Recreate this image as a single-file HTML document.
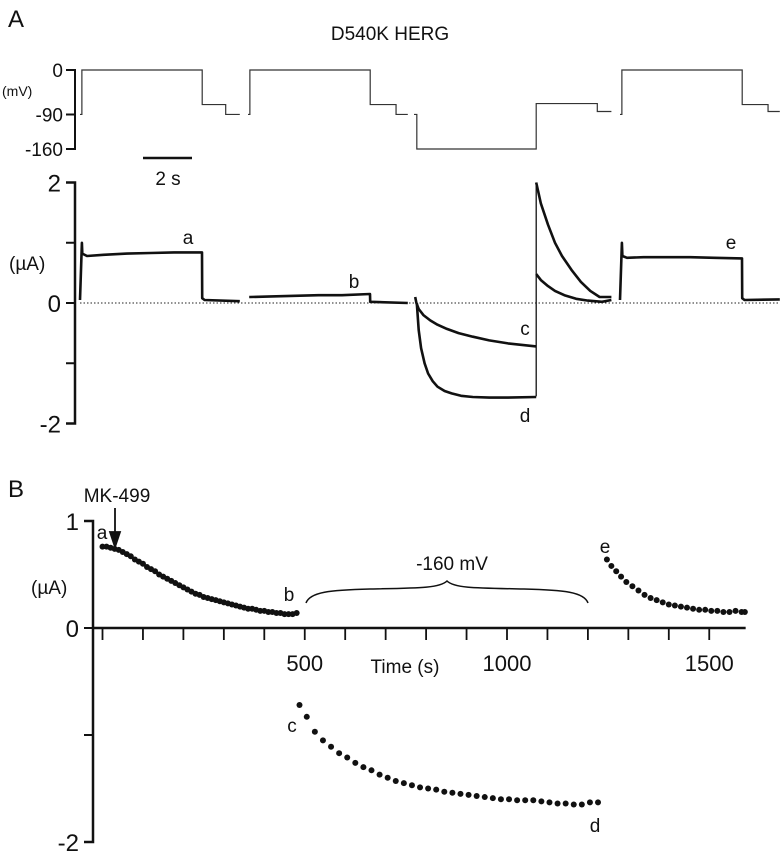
<!DOCTYPE html>
<html><head><meta charset="utf-8"><style>
html,body{margin:0;padding:0;background:#fff}
svg{display:block}
text{font-family:"Liberation Sans",sans-serif;fill:#111}
</style></head><body>
<svg id="fig" width="780" height="853" viewBox="0 0 780 853" xmlns="http://www.w3.org/2000/svg">
<text x="8" y="27" font-size="24">A</text>
<text x="390" y="40" font-size="19" text-anchor="middle">D540K HERG</text>
<g id="protocol"></g>
<g id="currents"></g>
<text x="8" y="497" font-size="24">B</text>
<g id="timecourse"></g>
</svg>
<script>
// ---------- Panel A data ----------
const sweepOrigins = [80, 248, 414, 620];
const vSteps1 = [[0,-90],[0.08,0],[5.2,-70],[6.2,-90],[6.8,-90]];
const vSteps2 = [[0,-90],[0.08,0],[5.2,-70],[6.3,-90],[6.8,-90]];
const vSteps3 = [[0,-90],[0.12,-160],[5.2,-68],[7.8,-84],[8.4,-84]];
const vSteps4 = [[0,-90],[0.08,0],[5.2,-70],[6.3,-84],[6.8,-84]];
const traceA_t = [0,0.08,0.1,0.3,1,2,3,4,5.19,5.2,5.3,6.8];
const traceA_v = [0.05,1.0,0.82,0.78,0.8,0.82,0.83,0.84,0.84,0.08,0.05,0.03];
const traceB_t = [0.05,0.1,1,2,3,4,5.19,5.2,6.8];
const traceB_v = [0.1,0.1,0.11,0.12,0.13,0.13,0.15,0.02,0.0];
const traceC_t = [0.05,0.1,0.2,0.4,0.7,1.0,1.4,1.9,2.5,3.2,4.0,5.2];
const traceC_v = [0.1,0,-0.1,-0.2,-0.29,-0.36,-0.43,-0.5,-0.56,-0.62,-0.67,-0.72];
const traceD_t = [0.12,0.2,0.3,0.45,0.6,0.8,1.0,1.3,1.6,2.0,2.5,3.2,4.0,5.2];
const traceD_v = [0,-0.45,-0.75,-1.0,-1.17,-1.3,-1.39,-1.46,-1.5,-1.54,-1.56,-1.57,-1.57,-1.56];
const tail1_t = [5.2,5.4,5.7,6.0,6.3,6.7,7.1,7.5,7.9,8.4];
const tail1_v = [2.0,1.65,1.3,1.0,0.78,0.55,0.35,0.2,0.1,0.1];
const tail2_t = [5.2,5.4,5.7,6.0,6.4,6.9,7.4,8.0,8.4];
const tail2_v = [0.48,0.38,0.28,0.2,0.13,0.07,0.04,0.02,0.05];
const traceE_t = [0,0.08,0.1,0.3,1,2,3,4,5.19,5.2,5.3,6.8];
const traceE_v = [0.05,1.0,0.78,0.75,0.76,0.76,0.76,0.75,0.74,0.08,0.05,0.06];
const vTicks = [0,-90,-160];
const iTicks = [2,1,0,-1,-2];
const iTickLabels = ["2","","0","","-2"];

// ---------- Panel B data ----------
const seg1_t = [0,10,20,30,40,50,60,70,80,90,100,110,120,130,140,150,160,170,180,190,200,210,220,230,240,250,260,270,280,290,300,310,320,330,340,350,360,370,380,390,400,410,420,430,440,450,460,470,480];
const seg1_v = [0.76,0.76,0.75,0.74,0.73,0.71,0.69,0.67,0.64,0.62,0.6,0.57,0.55,0.53,0.5,0.48,0.46,0.44,0.42,0.4,0.38,0.36,0.34,0.32,0.31,0.29,0.28,0.27,0.26,0.25,0.24,0.23,0.22,0.21,0.2,0.19,0.18,0.18,0.17,0.16,0.16,0.15,0.15,0.14,0.14,0.13,0.13,0.13,0.14];
const seg2_t = [487,505,525,545,565,585,605,625,645,665,685,705,725,745,765,785,805,825,845,865,885,905,925,945,965,985,1005,1025,1045,1065,1085,1105,1125,1145,1165,1185,1205,1225];
const seg2_v = [-0.72,-0.83,-0.97,-1.05,-1.11,-1.17,-1.21,-1.26,-1.3,-1.33,-1.37,-1.4,-1.43,-1.45,-1.47,-1.49,-1.5,-1.51,-1.53,-1.54,-1.55,-1.56,-1.57,-1.58,-1.59,-1.6,-1.6,-1.61,-1.61,-1.61,-1.62,-1.63,-1.64,-1.64,-1.65,-1.65,-1.63,-1.63];
const seg3_t = [1247,1258,1270,1282,1295,1310,1325,1340,1355,1370,1385,1400,1415,1430,1445,1460,1475,1490,1505,1520,1535,1550,1565,1580,1588];
const seg3_v = [0.64,0.58,0.53,0.48,0.43,0.39,0.35,0.31,0.28,0.26,0.24,0.22,0.21,0.2,0.19,0.18,0.17,0.17,0.16,0.16,0.15,0.15,0.16,0.15,0.15];
const bYTicks = [1,0,-1,-2];
const bYLabels = ["1","0","","-2"];
const bXLabels = [500,1000,1500];

const NS="http://www.w3.org/2000/svg";
function mk(tag, attrs, parent){const e=document.createElementNS(NS,tag);for(const k in attrs)e.setAttribute(k,attrs[k]);parent.appendChild(e);return e;}

const pxPerSec = 23.5;
function xA(sweep,t){return sweepOrigins[sweep]+t*pxPerSec;}
function yV(v){return 70+(0-v)*(149-70)/160;}
function yI(v){return 303-v*60.25;}

const prot=document.getElementById('protocol');
let ax=mk('path',{d:`M66 ${yV(0)}H75V${yV(-160)}H66 M66 ${yV(-90)}H75`,stroke:'#111','stroke-width':2,fill:'none'},prot);


vTicks.forEach(v=>{const t=mk('text',{x:63,y:yV(v)+7,'font-size':19,'text-anchor':'end'},prot);t.textContent=String(v);

});
let mvl=mk('text',{x:2,y:96,'font-size':14},prot);mvl.textContent='(mV)';


[vSteps1,vSteps2,vSteps3,vSteps4].forEach((st,i)=>{
  let d=`M${xA(i,st[0][0])} ${yV(st[0][1])}`;
  for(let k=1;k<st.length;k++){d+=`H${xA(i,st[k][0])}V${yV(st[k][1])}`;}
  const p=mk('path',{d,stroke:'#333','stroke-width':1.2,fill:'none'},prot);
  
  
});
let sb=mk('path',{d:'M143 158H192',stroke:'#111','stroke-width':2.5},prot);


let sbl=mk('text',{x:168,y:185,'font-size':19,'text-anchor':'middle'},prot);sbl.textContent='2 s';



const cur=document.getElementById('currents');
let iax=mk('path',{d:`M66 ${yI(2)}H75V${yI(-2)}H66`,stroke:'#111','stroke-width':2.5,fill:'none'},cur);


iTicks.forEach((v,i)=>{
  const tk=mk('path',{d:`M66 ${yI(v)}H75`,stroke:'#111','stroke-width':2},cur);
  
  
  if(iTickLabels[i]){const t=mk('text',{x:61,y:yI(v)+9,'font-size':24,'text-anchor':'end'},cur);t.textContent=iTickLabels[i];
  
  }
});
let ual=mk('text',{x:9,y:270,'font-size':19},cur);ual.textContent='(\u00b5A)';


let zl=mk('path',{d:`M80 ${yI(0)}H778`,stroke:'#222','stroke-width':1,'stroke-dasharray':'1.5 2',fill:'none'},cur);


function trace(sweep,ts,vs,name){
  let d='';ts.forEach((t,k)=>{d+=(k?'L':'M')+xA(sweep,t).toFixed(1)+' '+yI(vs[k]).toFixed(1);});
  const p=mk('path',{d,stroke:'#111','stroke-width':2.6,fill:'none','stroke-linejoin':'round'},cur);
  
  
}
trace(0,traceA_t,traceA_v,'trace-a');
trace(1,traceB_t,traceB_v,'trace-b');
trace(2,traceC_t,traceC_v,'trace-c');
trace(2,traceD_t,traceD_v,'trace-d');
trace(2,tail1_t,tail1_v,'tail-d');
trace(2,tail2_t,tail2_v,'tail-c');
trace(3,traceE_t,traceE_v,'trace-e');
let jump=mk('path',{d:`M${xA(2,5.2)} ${yI(-1.55)}V${yI(2)}`,stroke:'#111','stroke-width':1.3},cur);


[['a',188,244],['b',354,288],['c',525,335],['d',525,422],['e',731,249]].forEach(([s,x,y])=>{
  const t=mk('text',{x,y,'font-size':19,'text-anchor':'middle'},cur);t.textContent=s;
  
  
});

// ---------- Panel B ----------
const tc=document.getElementById('timecourse');
function xB(t){return 102.5+t*0.4045;}
function yB(v){return 628-v*107;}
let byax=mk('path',{d:`M84 ${yB(1)}H93V${yB(-2)}H84`,stroke:'#111','stroke-width':2.5,fill:'none'},tc);


bYTicks.forEach((v,i)=>{
  const tk=mk('path',{d:`M84 ${yB(v)}H93`,stroke:'#111','stroke-width':2},tc);
  
  
  if(bYLabels[i]){const t=mk('text',{x:79,y:yB(v)+9,'font-size':24,'text-anchor':'end'},tc);t.textContent=bYLabels[i];
  
  }
});
let bxax=mk('path',{d:`M93 ${yB(0)}H${xB(1590)}`,stroke:'#111','stroke-width':2.5},tc);


for(let t=0;t<=1500;t+=100){
  const tk=mk('path',{d:`M${xB(t)} ${yB(0)}V${yB(0)+12}`,stroke:'#111','stroke-width':1.8},tc);
  
  
}
bXLabels.forEach(v=>{const t=mk('text',{x:xB(v),y:671,'font-size':22,'text-anchor':'middle'},tc);t.textContent=String(v);

});
let tl=mk('text',{x:405,y:673,'font-size':19,'text-anchor':'middle'},tc);tl.textContent='Time (s)';


let bua=mk('text',{x:31,y:594,'font-size':19},tc);bua.textContent='(\u00b5A)';


function dots(ts,vs,name){vs.forEach((v,k)=>{const c=mk('circle',{cx:xB(ts[k]),cy:yB(v),r:3,fill:'#111'},tc);

});}
dots(seg1_t,seg1_v,'point-wash-in');
dots(seg2_t,seg2_v,'point-hyperpolarized');
dots(seg3_t,seg3_v,'point-recovery');
let br=mk('path',{d:'M306 603C310 592 330 590 370 589C420 588 440 588 447 581C454 588 474 588 524 589C564 590 584 592 588 603',stroke:'#111','stroke-width':1.5,fill:'none'},tc);


let bl=mk('text',{x:452,y:570,'font-size':19,'text-anchor':'middle'},tc);bl.textContent='-160 mV';


let mk499=mk('text',{x:117,y:502,'font-size':19,'text-anchor':'middle'},tc);mk499.textContent='MK-499';


let arr=mk('path',{d:'M115 508V544M110 532L115 547L120 532Z',stroke:'#111','stroke-width':1.8,fill:'#111'},tc);


[['a',102,539],['b',289,601],['c',292,732],['d',595,832],['e',605,553]].forEach(([s,x,y])=>{
  const t=mk('text',{x,y,'font-size':19,'text-anchor':'middle'},tc);t.textContent=s;
  
  
});
</script>
</body></html>
